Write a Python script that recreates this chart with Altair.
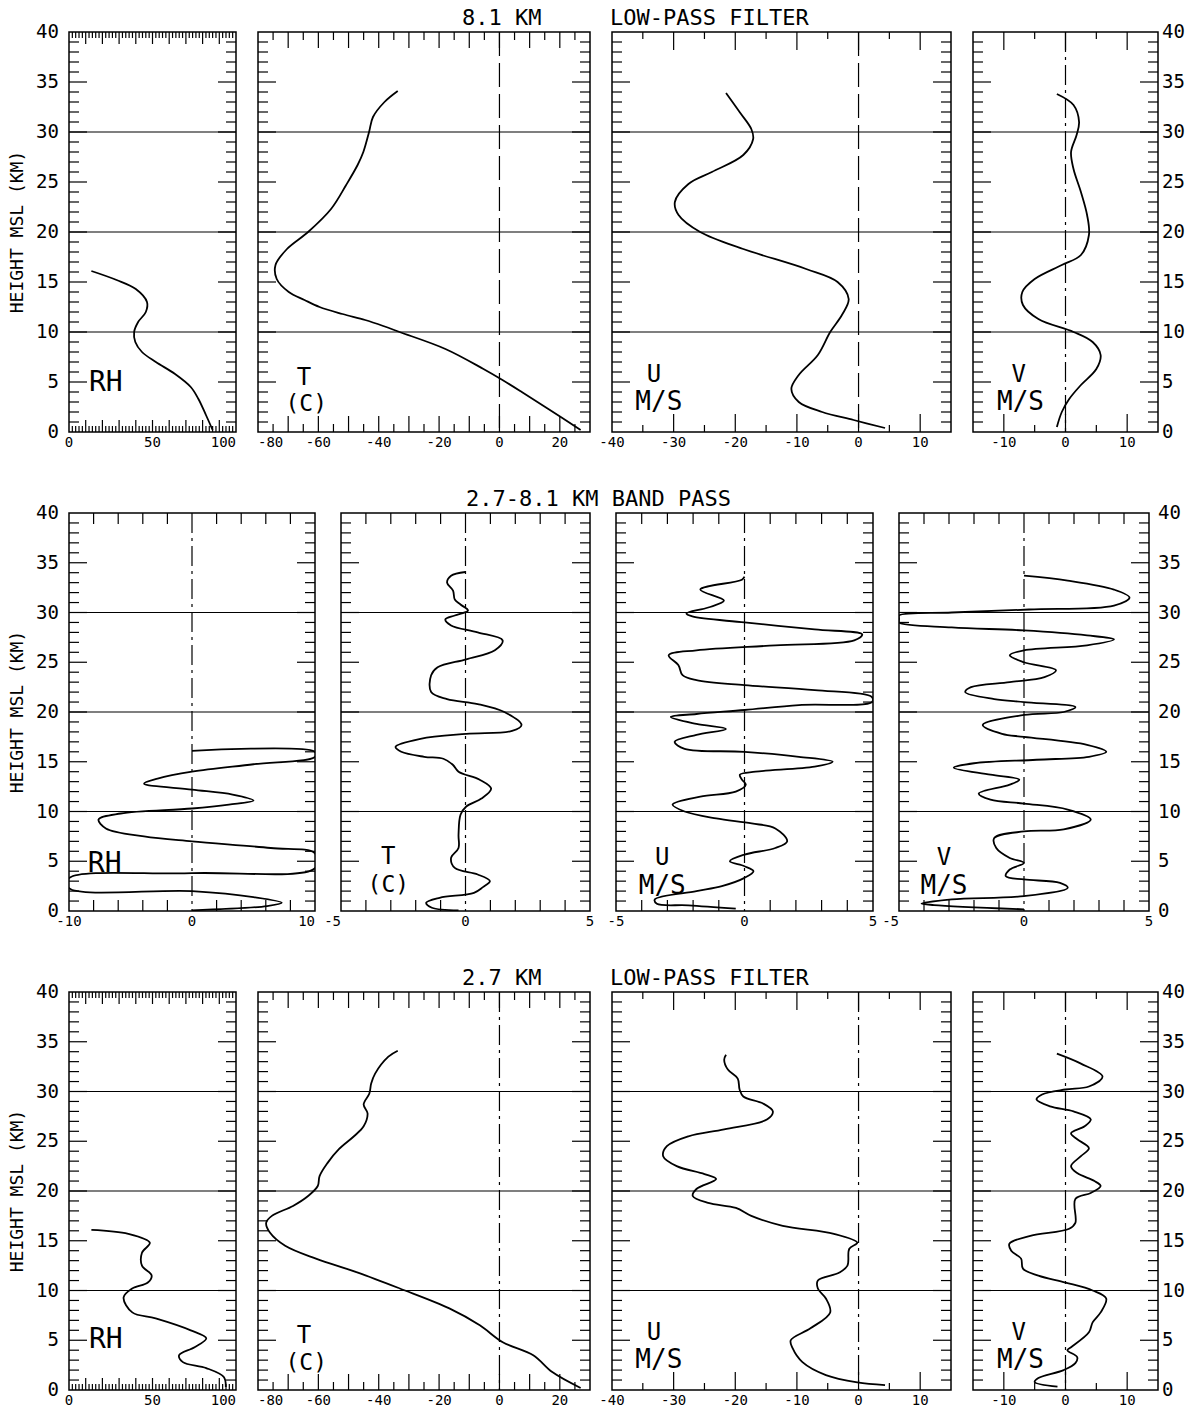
import altair as alt
import pandas as pd

FONT = "DejaVu Sans Mono"

# ---------------- data: (height km, value) ----------------
# Row 1: 8.1 KM LOW-PASS FILTER
R1_RH = [(16.1, 13.4), (15.2, 28.5), (14.3, 40.0), (13.0, 46.7), (12.0, 46.0), (11.0, 41.4),
         (10.0, 39.0), (9.0, 39.7), (8.0, 43.7), (7.0, 52.0), (5.8, 63.5), (4.5, 72.9),
         (3.3, 77.5), (1.7, 82.0), (0.2, 86.0)]
R1_T = [(34.1, -33.7), (33.0, -38.1), (31.5, -41.9), (30.0, -43.2), (28.0, -45.1), (26.7, -47.0),
        (24.7, -50.8), (22.3, -55.8), (20.0, -63.4), (18.3, -70.4), (16.7, -74.2), (15.3, -73.8),
        (14.0, -69.8), (13.2, -64.6), (12.5, -59.6), (11.8, -52.0), (11.2, -44.5), (10.6, -38.5),
        (10.0, -33.1), (8.3, -17.9), (6.3, -5.3), (5.2, 1.0), (4.0, 7.4), (2.3, 16.2), (0.2, 26.9)]
R1_U = [(33.9, -21.5), (32.0, -19.3), (30.3, -17.4), (29.3, -17.1), (27.7, -18.7), (26.0, -23.8),
        (24.8, -27.6), (23.0, -29.8), (21.7, -29.2), (20.0, -25.7), (18.3, -18.7), (16.3, -8.5),
        (15.0, -3.4), (13.3, -1.6), (11.7, -2.7), (10.0, -4.6), (7.7, -6.6), (5.7, -9.7),
        (4.3, -10.9), (3.0, -9.7), (2.0, -5.9), (1.2, -0.8), (0.4, 4.3)]
R1_V = [(33.8, -1.4), (32.7, 1.3), (31.0, 2.2), (29.7, 1.8), (28.0, 0.9), (26.3, 1.3), (24.0, 2.5),
        (21.7, 3.5), (19.7, 3.8), (17.7, 2.5), (16.7, -0.6), (15.3, -5.0), (14.0, -7.0),
        (12.7, -6.9), (11.3, -4.4), (10.0, 1.3), (9.0, 4.4), (7.7, 5.7), (6.3, 5.0), (4.7, 2.5),
        (3.3, 0.6), (2.0, -0.6), (0.5, -1.4)]

# Row 2: 2.7-8.1 KM BAND PASS (values beyond the frame are drawn along its edge)
R2_RH = [(16.1, 0.0), (16.0, 10.0), (15.5, 10.0), (14.75, 5.0), (14.0, 0.0), (13.3, -2.8),
         (12.8, -3.9), (12.2, 0.0), (11.7, 3.3), (11.1, 5.0), (10.7, 3.0), (10.3, 0.0),
         (9.8, -5.8), (9.2, -7.6), (8.3, -7.0), (7.5, -3.9), (7.0, 0.0), (6.33, 6.4),
         (5.8, 10.0), (4.3, 10.0), (3.8, 0.0), (3.3, -10.0), (2.3, -10.0), (2.0, 0.0),
         (1.4, 5.0), (0.83, 7.3), (0.5, 6.1), (0.07, 0.0)]
R2_T = [(34.07, 0.0), (33.7, -0.58), (33.0, -0.74), (32.2, -0.5), (31.3, -0.43), (30.8, -0.2),
        (30.2, 0.1), (29.7, -0.43), (29.3, -0.81), (28.7, -0.58), (28.0, 0.49), (27.2, 1.49),
        (26.2, 1.18), (25.3, 0.03), (24.5, -1.12), (23.7, -1.38), (22.0, -1.38), (21.3, -0.74),
        (20.8, 0.49), (20.0, 1.56), (18.7, 2.25), (18.1, 1.87), (17.8, 0.03), (17.3, -1.81),
        (16.5, -2.81), (16.0, -2.58), (15.5, -1.66), (15.3, -0.89), (14.7, -0.51), (14.0, -0.28),
        (13.2, 0.57), (12.3, 1.03), (11.3, 0.64), (10.5, 0.03), (9.67, -0.2), (7.67, -0.28),
        (6.33, -0.28), (5.33, -0.58), (4.33, -0.43), (3.67, 0.49), (3.0, 0.98), (2.4, 0.7),
        (1.83, 0.34), (1.33, -1.04), (0.83, -1.58), (0.33, -1.35), (0.07, -0.28)]
R2_U = [(33.6, 0.0), (33.3, -0.1), (32.3, -1.72), (31.2, -0.8), (30.5, -1.41), (29.9, -2.26),
        (29.6, -2.03), (29.0, 0.0), (28.3, 2.73), (27.8, 4.58), (27.2, 4.27), (26.7, 1.2),
        (26.2, -1.87), (25.7, -2.95), (24.7, -2.57), (23.7, -2.41), (23.2, -1.87), (22.7, 0.0),
        (22.2, 2.73), (21.5, 4.96), (21.0, 4.96), (20.7, 2.12), (20.2, 0.0), (19.8, -1.87),
        (19.5, -2.87), (18.8, -1.87), (18.3, -0.72), (17.7, -1.87), (17.0, -2.72), (16.3, -2.33),
        (16.0, 0.0), (15.5, 2.12), (15.0, 3.43), (14.5, 2.73), (14.0, 0.43), (13.7, -0.18),
        (13.2, -0.1), (12.7, 0.05), (12.0, -0.34), (11.5, -1.72), (10.7, -2.8), (10.0, -2.33),
        (9.3, -1.1), (8.8, 0.28), (8.3, 1.2), (7.0, 1.66), (6.33, 1.2), (5.67, 0.0), (5.0, -0.57),
        (4.5, 0.0), (4.0, 0.35), (3.33, 0.0), (2.5, -0.88), (2.0, -1.87), (1.17, -3.49),
        (0.73, -3.41), (0.57, -2.18), (0.23, -0.34)]
R2_V = [(33.7, 0.0), (33.2, 1.75), (32.3, 3.6), (31.5, 4.22), (30.7, 3.6), (30.3, 0.2),
        (30.0, -2.89), (29.7, -5.0), (29.35, -5.0), (29.0, -5.0), (28.5, -2.89), (28.2, 0.0),
        (27.7, 2.52), (27.3, 3.6), (26.7, 2.52), (26.2, 0.0), (25.7, -0.57), (25.0, 0.0),
        (24.2, 1.28), (23.5, 0.82), (23.0, -0.57), (22.5, -2.12), (22.0, -2.35), (21.3, -1.19),
        (21.0, 0.0), (20.5, 2.06), (20.0, 1.59), (19.7, 0.0), (18.7, -1.65), (17.8, -0.88),
        (17.5, 0.0), (16.7, 2.52), (16.0, 3.29), (15.5, 2.6), (15.2, 0.5), (14.85, -2.0),
        (14.4, -2.81), (13.7, -1.34), (13.2, -0.19), (12.7, -0.57), (11.8, -1.81), (11.2, -1.34),
        (10.8, 0.0), (10.2, 1.75), (9.2, 2.67), (8.2, 1.59), (8.0, 0.0), (7.33, -1.19),
        (6.33, -1.11), (5.33, -0.57), (4.83, 0.0), (4.17, -0.57), (3.5, -0.73), (3.17, 0.0),
        (2.83, 1.44), (2.33, 1.75), (1.5, 0.0), (1.17, -2.89), (0.75, -4.1), (0.6, -3.6),
        (0.17, 0.0)]

# Row 3: 2.7 KM LOW-PASS FILTER
R3_RH = [(16.1, 13.4), (15.7, 35.5), (14.8, 48.4), (13.8, 43.7), (12.5, 43.7), (11.5, 49.5),
         (10.8, 47.2), (10.2, 37.9), (9.3, 32.7), (7.8, 37.9), (7.2, 51.9), (6.0, 72.9),
         (5.2, 82.2), (4.3, 75.2), (3.5, 65.9), (2.8, 68.2), (2.2, 82.2), (1.3, 92.7), (0.3, 93.9)]
R3_T = [(34.1, -33.7), (33.5, -36.8), (31.8, -41.2), (30.8, -42.5), (29.8, -43.1), (28.7, -45.0),
        (27.8, -43.7), (26.5, -45.0), (25.5, -48.2), (24.2, -53.2), (22.8, -57.0), (21.5, -59.6),
        (20.5, -60.2), (19.5, -63.4), (18.5, -68.4), (17.5, -75.4), (16.8, -77.3), (15.8, -76.0),
        (14.5, -71.0), (13.2, -60.8), (11.8, -46.9), (10.2, -33.0), (8.2, -16.6), (6.5, -6.5),
        (4.8, 1.1), (3.5, 11.2), (1.8, 17.5), (0.2, 26.9)]
R3_U = [(33.7, -21.5), (33.2, -21.8), (32.2, -21.2), (31.3, -19.6), (30.2, -19.3), (29.5, -18.7),
        (28.8, -15.5), (28.0, -13.9), (27.2, -14.8), (26.2, -21.8), (25.5, -27.6), (24.5, -31.1),
        (23.5, -31.7), (22.5, -29.5), (21.7, -25.0), (21.2, -23.1), (20.2, -26.3), (19.5, -26.9),
        (18.8, -24.4), (18.3, -19.9), (17.5, -17.4), (16.5, -12.3), (15.7, -4.0), (14.8, -0.2),
        (14.2, -1.5), (12.5, -1.8), (11.8, -3.1), (11.0, -6.6), (10.2, -6.6), (9.2, -5.3),
        (7.8, -4.6), (6.2, -7.8), (5.0, -11.0), (4.2, -10.7), (2.8, -9.1), (1.5, -5.3),
        (0.77, -0.2), (0.5, 4.3)]
R3_V = [(33.8, -1.4), (32.8, 2.5), (31.5, 6.0), (30.5, 3.8), (30.2, 0.0), (29.7, -3.8),
        (29.2, -4.7), (28.5, -2.5), (28.0, 1.3), (27.2, 4.1), (26.5, 3.1), (25.8, 0.9),
        (25.2, 1.9), (24.3, 3.8), (23.5, 2.5), (22.5, 0.9), (21.8, 1.9), (21.0, 4.7), (20.5, 5.7),
        (19.8, 4.1), (19.2, 1.6), (16.8, 1.6), (16.2, 0.6), (15.5, -5.7), (14.7, -9.1),
        (14.0, -8.8), (13.2, -7.2), (12.2, -6.9), (11.5, -4.4), (10.8, 0.0), (10.0, 4.4),
        (9.2, 6.6), (7.8, 5.7), (6.8, 4.4), (5.8, 3.8), (4.3, 0.9), (4.0, 0.3), (3.3, 1.9),
        (2.7, 1.6), (2.0, -0.3), (1.2, -4.4), (0.8, -5.0), (0.33, -1.3)]

# ---------------- axis labels / tick positions ----------------
HEIGHT_LABELS = [0, 5, 10, 15, 20, 25, 30, 35, 40]
GUIDE_HEIGHTS = [10, 20, 30]
Y_MINOR = [h for h in range(1, 40) if h % 5 != 0]
Y_MAJOR = [5, 10, 15, 20, 25, 30, 35]

# (value, alignment of the printed label)
RH_LABELS = [(0, "center"), (50, "center"), (100, "right")]
T_LABELS = [(-80, "left"), (-60, "center"), (-40, "center"), (-20, "center"), (0, "center"), (20, "center")]
U_LABELS = [(-40, "center"), (-30, "center"), (-20, "center"), (-10, "center"), (0, "center"), (10, "center")]
V_LABELS = [(-10, "center"), (0, "center"), (10, "center")]
BP_RH_LABELS = [(-10, "center"), (0, "center"), (10, "right")]
BP_T_LABELS = [(-5, "right"), (0, "center"), (5, "center")]
BP_U_LABELS = [(-5, "center"), (0, "center"), (5, "center")]
BP_V_LABELS = [(-5, "right"), (0, "center"), (5, "center")]

RH_TMIN = [v for v in range(2, 100, 2) if v % 10 != 0]
RH_TMAJ = [10, 20, 30, 40, 50, 60, 70, 80, 90]
T_TMIN = [-75, -65, -55, -45, -35, -25, -15, -5, 5, 15, 25]
T_TMAJ = [-70, -60, -50, -40, -30, -20, -10, 0, 10, 20]
U_TMIN = [-35, -25, -15, -5, 5]
U_TMAJ = [-30, -20, -10, 0, 10]
V_TMIN = [-5, 5]
V_TMAJ = [-10, 0, 10]
BP_RH_T = [-8, -6, -4, -2, 2, 4, 6, 8]
BP_T = [-4, -3, -2, -1, 1, 2, 3, 4]

DASH = [24, 7]
DASHDOT = [20, 5, 3, 5]

ONE = pd.DataFrame({"a": [0]})


def tick_layer(vals, side, length, xs, ys, dom):
    df = pd.DataFrame({"t": vals})
    if side in ("left", "right"):
        xv = dom[0] if side == "left" else dom[1]
        off = length / 2 if side == "left" else -length / 2
        return alt.Chart(df).mark_tick(orient="horizontal", size=length, thickness=1.2,
                                       xOffset=off, color="black", opacity=1).encode(
            x=alt.XDatum(xv, scale=xs, axis=None),
            y=alt.Y("t:Q", scale=ys, axis=None))
    yv = 40 if side == "top" else 0
    off = length / 2 if side == "top" else -length / 2
    return alt.Chart(df).mark_tick(orient="vertical", size=length, thickness=1.2,
                                   yOffset=off, color="black", opacity=1).encode(
        x=alt.X("t:Q", scale=xs, axis=None),
        y=alt.YDatum(yv, scale=ys, axis=None))


def panel(pts, dom, w, h, xlabels, tmin, lmin, tmaj, lmaj, zero, texts,
          yaxis=None, ypad=4, titles=()):
    xs = alt.Scale(domain=dom, nice=False, zero=False, clamp=True)
    ys = alt.Scale(domain=[0, 40], nice=False, zero=False)
    layers = []
    for side in ("left", "right"):
        layers.append(tick_layer(Y_MINOR, side, 10, xs, ys, dom))
        layers.append(tick_layer(Y_MAJOR, side, 18, xs, ys, dom))
    for side in ("top", "bottom"):
        if tmin:
            layers.append(tick_layer(tmin, side, lmin, xs, ys, dom))
        if tmaj:
            layers.append(tick_layer(tmaj, side, lmaj, xs, ys, dom))
    layers.append(alt.Chart(pd.DataFrame({"h": GUIDE_HEIGHTS})).mark_rule(
        color="black", strokeWidth=1.2).encode(y=alt.Y("h:Q", scale=ys, axis=None)))
    if zero is not None:
        layers.append(alt.Chart(ONE).mark_rule(color="black", strokeWidth=1.2, strokeDash=zero).encode(
            x=alt.XDatum(0, scale=xs, axis=None)))

    # curve
    df = pd.DataFrame(pts, columns=["h", "v"])
    df["o"] = list(range(len(df)))
    layers.append(alt.Chart(df).mark_line(color="black", strokeWidth=1.8, clip=True,
                                          interpolate="catmull-rom").encode(
        x=alt.X("v:Q", scale=xs, axis=None),
        y=alt.Y("h:Q", scale=ys, axis=None),
        order=alt.Order("o:Q")))

    # x tick labels (through the x scale)
    for al in ("left", "center", "right"):
        vals = [v for v, a in xlabels if a == al]
        if not vals:
            continue
        ldf = pd.DataFrame({"v": vals, "lab": [str(v) for v in vals]})
        layers.append(alt.Chart(ldf).mark_text(font=FONT, fontSize=14, align=al, baseline="middle",
                                               color="black").encode(
            x=alt.X("v:Q", scale=xs, axis=None), y=alt.value(h + 11), text="lab:N"))

    # y tick labels (through the y scale)
    if yaxis is not None:
        ydf = pd.DataFrame({"h": HEIGHT_LABELS, "lab": [str(v) for v in HEIGHT_LABELS]})
        if yaxis == "left":
            layers.append(alt.Chart(ydf).mark_text(font=FONT, fontSize=19, align="right",
                                                   baseline="middle", color="black").encode(
                x=alt.value(-10), y=alt.Y("h:Q", scale=ys, axis=None), text="lab:N"))
            layers.append(alt.Chart(ONE).mark_text(text="HEIGHT MSL (KM)", font=FONT, fontSize=18,
                                                   angle=270, align="center", baseline="middle",
                                                   color="black").encode(
                x=alt.value(-51), y=alt.value(h / 2)))
        else:
            layers.append(alt.Chart(ydf).mark_text(font=FONT, fontSize=19, align="left",
                                                   baseline="middle", color="black").encode(
                x=alt.value(w + ypad), y=alt.Y("h:Q", scale=ys, axis=None), text="lab:N"))

    for txt, xv, hv, fs in texts:
        layers.append(alt.Chart(ONE).mark_text(text=txt, font=FONT, fontSize=fs, align="center",
                                               baseline="middle", color="black").encode(
            x=alt.XDatum(xv, scale=xs, axis=None), y=alt.YDatum(hv, scale=ys, axis=None)))
    for txt, px in titles:
        layers.append(alt.Chart(ONE).mark_text(text=txt, font=FONT, fontSize=22, align="left",
                                               baseline="middle", color="black").encode(
            x=alt.value(px), y=alt.value(-14)))
    return alt.layer(*layers).properties(width=w, height=h)


W1 = [167, 332, 339, 185]
W2 = [246, 249, 257, 250]

row1 = alt.hconcat(
    panel(R1_RH, [0, 100], W1[0], 400, RH_LABELS, RH_TMIN, 6, RH_TMAJ, 12, None,
          [("RH", 22, 4.9, 28)], yaxis="left"),
    panel(R1_T, [-80, 30], W1[1], 400, T_LABELS, T_TMIN, 8, T_TMAJ, 16, DASH,
          [("T", -64.8, 5.4, 24), ("(C)", -64, 2.8, 23)],
          titles=[("8.1 KM", 204), ("LOW-PASS FILTER", 352)]),
    panel(R1_U, [-40, 15], W1[2], 400, U_LABELS, U_TMIN, 7, U_TMAJ, 18, DASH,
          [("U", -33.2, 5.7, 24), ("M/S", -32.4, 3.0, 26)]),
    panel(R1_V, [-15, 15], W1[3], 400, V_LABELS, V_TMIN, 7, V_TMAJ, 18, DASHDOT,
          [("V", -7.6, 5.7, 24), ("M/S", -7.3, 3.0, 26)], yaxis="right", ypad=4),
    spacing=22, bounds="flush")

row2 = alt.hconcat(
    panel(R2_RH, [-10, 10], W2[0], 398, BP_RH_LABELS, BP_RH_T, 11, None, 0, DASHDOT,
          [("RH", -7.1, 4.7, 28)], yaxis="left"),
    panel(R2_T, [-5, 5], W2[1], 398, BP_T_LABELS, BP_T, 11, None, 0, DASHDOT,
          [("T", -3.1, 5.4, 24), ("(C)", -3.1, 2.6, 23)],
          titles=[("2.7-8.1 KM BAND PASS", 125)]),
    panel(R2_U, [-5, 5], W2[2], 398, BP_U_LABELS, BP_T, 11, None, 0, DASHDOT,
          [("U", -3.2, 5.3, 24), ("M/S", -3.2, 2.5, 26)]),
    panel(R2_V, [-5, 5], W2[3], 398, BP_V_LABELS, BP_T, 11, None, 0, DASHDOT,
          [("V", -3.2, 5.3, 24), ("M/S", -3.2, 2.5, 26)], yaxis="right", ypad=9),
    spacing=26, bounds="flush")

row3 = alt.hconcat(
    panel(R3_RH, [0, 100], W1[0], 398, RH_LABELS, RH_TMIN, 6, RH_TMAJ, 12, None,
          [("RH", 22, 5.0, 28)], yaxis="left"),
    panel(R3_T, [-80, 30], W1[1], 398, T_LABELS, T_TMIN, 8, T_TMAJ, 16, DASHDOT,
          [("T", -64.8, 5.4, 24), ("(C)", -64, 2.7, 23)],
          titles=[("2.7 KM", 204), ("LOW-PASS FILTER", 352)]),
    panel(R3_U, [-40, 15], W1[2], 398, U_LABELS, U_TMIN, 7, U_TMAJ, 18, DASHDOT,
          [("U", -33.2, 5.7, 24), ("M/S", -32.4, 3.0, 26)]),
    panel(R3_V, [-15, 15], W1[3], 398, V_LABELS, V_TMIN, 7, V_TMAJ, 18, DASHDOT,
          [("V", -7.6, 5.7, 24), ("M/S", -7.3, 3.0, 26)], yaxis="right", ypad=4),
    spacing=22, bounds="flush")

chart = alt.vconcat(row1, row2, row3, spacing=36).properties(
    padding={"left": 8, "top": 6, "right": 0, "bottom": 0},
    background="white",
).configure_view(stroke="black", strokeWidth=1.5)

chart.save("out.html", embed_options={"renderer": "svg", "actions": False})
